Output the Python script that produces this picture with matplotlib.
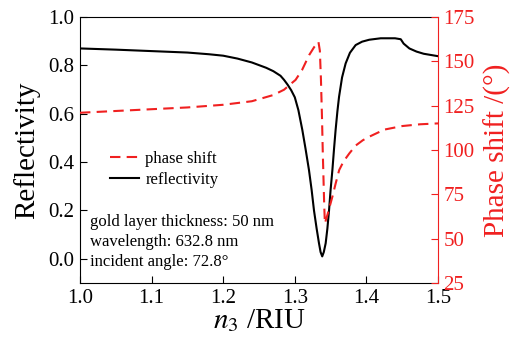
import matplotlib
matplotlib.use("Agg")
import matplotlib.pyplot as plt

# reflectivity curve
n_refl = [1.00, 1.05, 1.10, 1.15, 1.18, 1.20, 1.22, 1.24, 1.26, 1.27, 1.28, 1.285,
          1.29, 1.295, 1.30, 1.305, 1.3105, 1.315, 1.3198, 1.3235, 1.3268, 1.3305,
          1.3338, 1.336, 1.3383, 1.3405, 1.3431, 1.3455, 1.3478, 1.350, 1.3525,
          1.3548, 1.357, 1.3595, 1.3618, 1.366, 1.371, 1.377, 1.385, 1.394, 1.404,
          1.42, 1.44, 1.448, 1.452, 1.46, 1.47, 1.48, 1.49, 1.50]
reflectivity = [0.870, 0.865, 0.859, 0.853, 0.846, 0.840, 0.828, 0.812, 0.790, 0.776,
                0.757, 0.740, 0.720, 0.697, 0.668, 0.615, 0.533, 0.455, 0.367, 0.285,
                0.200, 0.125, 0.064, 0.028, 0.010, 0.028, 0.064, 0.125, 0.200, 0.285,
                0.367, 0.455, 0.533, 0.610, 0.670, 0.750, 0.808, 0.852, 0.884, 0.898,
                0.906, 0.912, 0.912, 0.908, 0.890, 0.870, 0.857, 0.848, 0.843, 0.838]

# phase shift curve (degrees)
n_phase = [1.00, 1.05, 1.10, 1.15, 1.20, 1.24, 1.27, 1.285, 1.295, 1.301, 1.31, 1.32,
           1.327, 1.333, 1.335, 1.3365, 1.338, 1.339, 1.340, 1.341, 1.342, 1.346,
           1.3525, 1.357, 1.362, 1.368, 1.376, 1.385, 1.395, 1.404, 1.425, 1.45,
           1.475, 1.50]
phase = [121, 122, 123, 124, 125.5, 127.5, 131, 134, 137.5, 139.5, 145, 153.5,
         158, 161, 156, 140, 118, 100, 85, 70, 58.6, 64,
         73.7, 81, 88.7, 93.5, 98, 102.5, 105.5, 107.5, 111.5, 113.5,
         114.5, 115]

x_ticks = [1.0, 1.1, 1.2, 1.3, 1.4, 1.5]
left_ticks = [0.0, 0.2, 0.4, 0.6, 0.8, 1.0]
right_ticks = [25, 50, 75, 100, 125, 150, 175]

RED = "#f02020"

plt.rcParams["font.family"] = ["Liberation Serif", "DejaVu Serif"]
plt.rcParams["mathtext.fontset"] = "stix"

fig = plt.figure(figsize=(5.14, 3.42), dpi=100)
ax = fig.add_axes([80 / 514, 1 - 283 / 342, 358 / 514, 266 / 342])
ax2 = ax.twinx()

l_refl, = ax.plot(n_refl, reflectivity, color="black", lw=1.5, label="reflectivity")
l_phase, = ax2.plot(n_phase, phase, color=RED, lw=1.5, dashes=(5, 3), label="phase shift")

ax.set_xlim(1.0, 1.5)
ax.set_ylim(-0.1, 1.0)
ax2.set_ylim(25, 175)
ax.set_xticks(x_ticks)
ax.set_yticks(left_ticks)
ax2.set_yticks(right_ticks)
ax.set_xticklabels([f"{v:.1f}" for v in x_ticks])
ax.set_yticklabels([f"{v:.1f}" for v in left_ticks])

ax.tick_params(direction="in", length=5, width=0.8, labelsize=15, pad=4)
ax.tick_params(top=False, right=False)
ax2.tick_params(axis="y", direction="in", length=5, width=0.8, labelsize=15,
                colors=RED, pad=4)

for sp in ax.spines.values():
    sp.set_linewidth(0.8)
ax.spines["right"].set_visible(False)
for name, sp in ax2.spines.items():
    sp.set_linewidth(0.8)
    if name != "right":
        sp.set_visible(False)
ax2.spines["right"].set_color(RED)

ax.set_xlabel(r"$n_3$ /RIU", fontsize=21, labelpad=0)
ax.set_ylabel("Reflectivity", fontsize=21, labelpad=6)
ax2.set_ylabel("Phase shift /(°)", fontsize=21, color=RED, labelpad=6)

ax2.legend(handles=[l_phase, l_refl], loc="upper left", bbox_to_anchor=(0.085, 0.497),
           frameon=False, fontsize=12, handlelength=1.7, handletextpad=0.4,
           borderpad=0, borderaxespad=0, labelspacing=0.3)

ax.text(0.028, 0.258,
        "gold layer thickness: 50 nm\nwavelength: 632.8 nm\nincident angle: 72.8°",
        transform=ax.transAxes, fontsize=12, va="top", ha="left", linespacing=1.32)

fig.savefig("out.png", dpi=100)
